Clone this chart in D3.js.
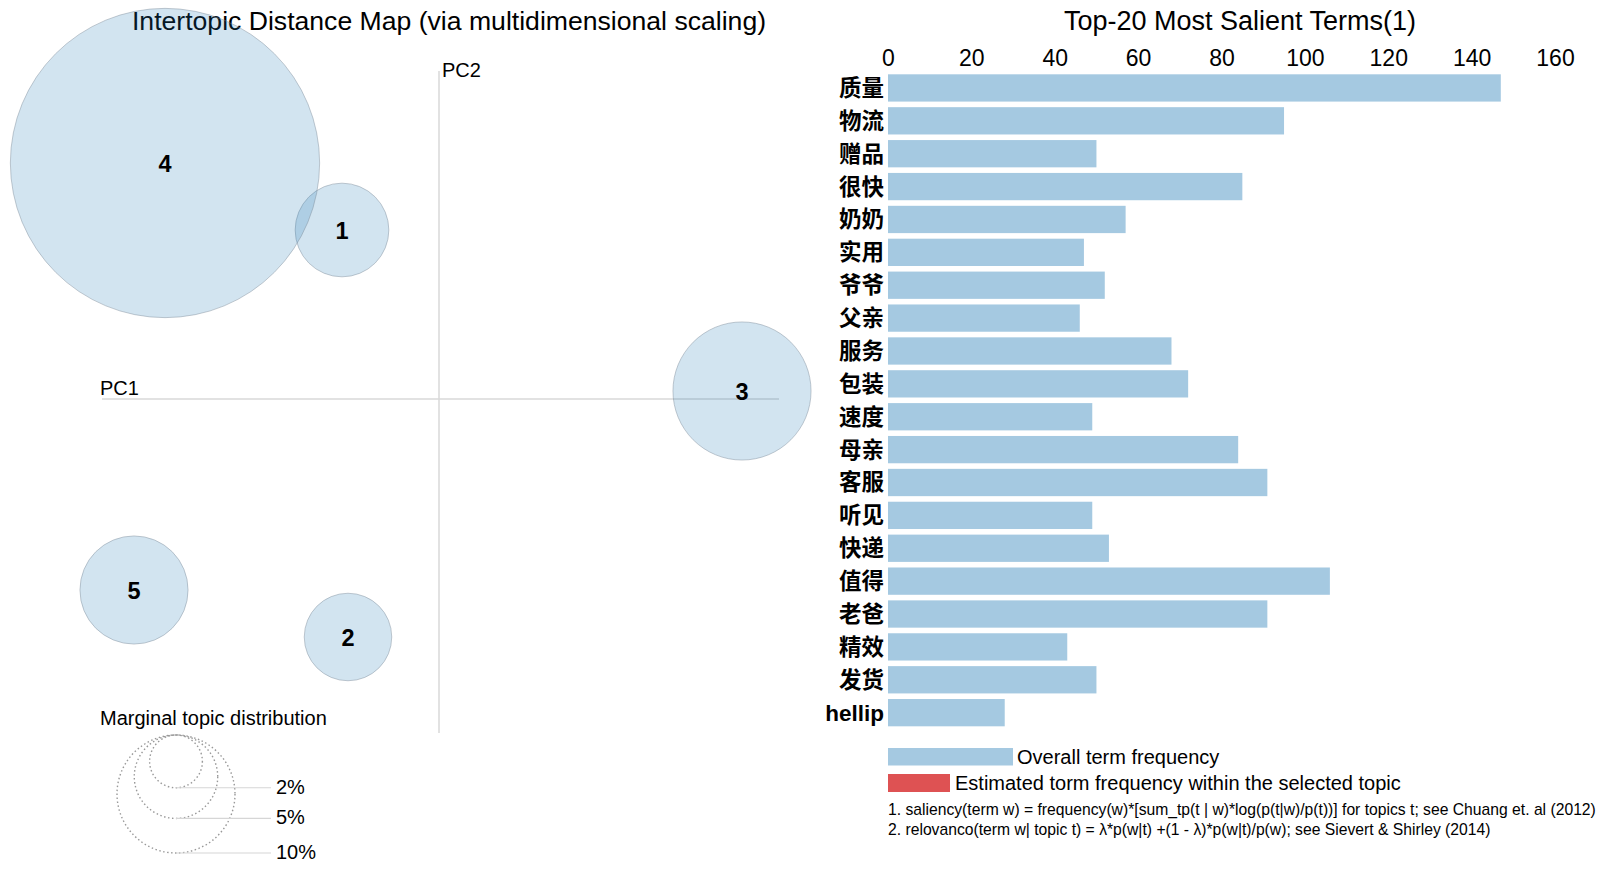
<!DOCTYPE html>
<html>
<head>
<meta charset="utf-8">
<script src="https://cdn.jsdelivr.net/npm/d3@7"></script>
<style>
  body { margin: 0; background: #fff; }
  text { font-family: "Liberation Sans", Arial, sans-serif; fill: #000; }
  .cjk { font-family: "Noto Sans CJK SC", sans-serif; font-weight: 700; }
</style>
</head>
<body>
<svg id="chart" width="1598" height="869"></svg>
<script>
// topic map data
const topicIds = [1, 2, 3, 4, 5];
const topicPC1 = [-0.097, -0.091, 0.303, -0.274, -0.305];
const topicPC2 = [0.169, -0.238, 0.008, 0.236, -0.191];
const topicShare = [6.3, 5.5, 13.7, 68.7, 8.4]; // marginal %

const legendShares = [2, 5, 10];
const legendLabels = ["2%", "5%", "10%"];

// salient terms
const terms = ["质量", "物流", "赠品", "很快", "奶奶", "实用", "爷爷", "父亲", "服务", "包装",
               "速度", "母亲", "客服", "听见", "快递", "值得", "老爸", "精效", "发货", "hellip"];
const termFreq = [147, 95, 50, 85, 57, 47, 52, 46, 68, 72,
                  49, 84, 91, 49, 53, 106, 91, 43, 50, 28];
const xTicks = [0, 20, 40, 60, 80, 100, 120, 140, 160];

const footnotes = [
    "1. saliency(term w) = frequency(w)*[sum_tp(t | w)*log(p(t|w)/p(t))] for topics t; see Chuang et. al (2012)",
    "2. relovanco(term w| topic t) = \u03bb*p(w|t) +(1 - \u03bb)*p(w|t)/p(w); see Sievert & Shirley (2014)"
];

const svg = d3.select("#chart");
const blue = "#1f77b4";

// ---- left panel: intertopic distance map
let xPC = d3.scaleLinear().domain([-0.337, 0.34]).range([102, 779]);
let yPC = d3.scaleLinear().domain([-0.334, 0.328]).range([733, 71]);
let rScale = d3.scaleSqrt().domain([0, 10]).range([0, 59]);

svg.append("text")
    .attr("x", 449).attr("y", 30)
    .attr("text-anchor", "middle")
    .style("font-size", "26.6px")
    .text("Intertopic Distance Map (via multidimensional scaling)");

let axes = svg.append("g");
axes.append("line")
    .attr("x1", xPC(-0.337)).attr("x2", xPC(0.34))
    .attr("y1", yPC(0)).attr("y2", yPC(0))
    .attr("stroke", "#d9d9d9").attr("stroke-width", 1.5);
axes.append("line")
    .attr("x1", xPC(0)).attr("x2", xPC(0))
    .attr("y1", yPC(0.328)).attr("y2", yPC(-0.334))
    .attr("stroke", "#d9d9d9").attr("stroke-width", 1.5);
axes.append("text")
    .attr("x", 100).attr("y", 395)
    .style("font-size", "20px").text("PC1");
axes.append("text")
    .attr("x", 442).attr("y", 77)
    .style("font-size", "20px").text("PC2");

let topics = topicIds.map((id, i) => ({id: id, x: topicPC1[i], y: topicPC2[i], share: topicShare[i]}));

svg.append("g")
    .selectAll("circle")
    .data(topics)
    .enter()
    .append("circle")
    .attr("cx", d => xPC(d.x))
    .attr("cy", d => yPC(d.y))
    .attr("r", d => rScale(d.share))
    .attr("fill", blue)
    .attr("fill-opacity", 0.2)
    .attr("stroke", "#7f8c99")
    .attr("stroke-opacity", 0.45)
    .attr("stroke-width", 1);

svg.append("g")
    .selectAll("text")
    .data(topics)
    .enter()
    .append("text")
    .attr("x", d => xPC(d.x))
    .attr("y", d => yPC(d.y) + 8.5)
    .attr("text-anchor", "middle")
    .style("font-size", "23.5px")
    .style("font-weight", "700")
    .text(d => d.id);

// marginal topic distribution legend
let legCx = 176, legTop = 735;
svg.append("text")
    .attr("x", 100).attr("y", 725)
    .style("font-size", "20px")
    .text("Marginal topic distribution");

let legG = svg.append("g");
legG.selectAll("circle")
    .data(legendShares)
    .enter()
    .append("circle")
    .attr("cx", legCx)
    .attr("cy", d => legTop + rScale(d))
    .attr("r", d => rScale(d))
    .attr("fill", "none")
    .attr("stroke", "#999")
    .attr("stroke-width", 1.4)
    .attr("stroke-dasharray", "1.5 2.5");
legG.selectAll("line")
    .data(legendShares)
    .enter()
    .append("line")
    .attr("x1", legCx).attr("x2", 271)
    .attr("y1", d => legTop + 2 * rScale(d))
    .attr("y2", d => legTop + 2 * rScale(d))
    .attr("stroke", "#d6d6d6").attr("stroke-width", 1.2);
legG.selectAll("text")
    .data(legendShares)
    .enter()
    .append("text")
    .attr("x", 276)
    .attr("y", d => legTop + 2 * rScale(d) + 6)
    .style("font-size", "20px")
    .text((d, i) => legendLabels[i]);

// ---- right panel: salient terms bar chart
let xBar = d3.scaleLinear().domain([0, 160]).range([888, 1555]);
let yBar = d3.scaleBand().domain(terms).range([74.3, 726.3]).paddingInner(0.17).paddingOuter(0);

svg.append("text")
    .attr("x", 1240).attr("y", 30)
    .attr("text-anchor", "middle")
    .style("font-size", "27px")
    .text("Top-20 Most Salient Terms(1)");

let xAxis = svg.append("g")
    .attr("transform", "translate(0, 66)")
    .call(d3.axisTop(xBar).tickValues(xTicks).tickSize(0).tickPadding(0));
xAxis.select(".domain").remove();
xAxis.selectAll("text")
    .style("font-family", "'Liberation Sans', Arial, sans-serif")
    .style("font-size", "23px")
    .attr("fill", "#000");

svg.append("g")
    .selectAll("rect")
    .data(terms)
    .enter()
    .append("rect")
    .attr("x", xBar(0))
    .attr("y", d => yBar(d))
    .attr("width", (d, i) => xBar(termFreq[i]) - xBar(0))
    .attr("height", yBar.bandwidth())
    .attr("fill", blue)
    .attr("fill-opacity", 0.4);

svg.append("g")
    .selectAll("text")
    .data(terms)
    .enter()
    .append("text")
    .attr("class", d => /^[a-z]/.test(d) ? "" : "cjk")
    .attr("x", 884)
    .attr("y", d => yBar(d) + yBar.bandwidth() / 2 + 8)
    .attr("text-anchor", "end")
    .style("font-size", "22.5px")
    .style("font-weight", "700")
    .text(d => d);

// bar legend
svg.append("rect")
    .attr("x", 888).attr("y", 748)
    .attr("width", 125).attr("height", 17.5)
    .attr("fill", blue).attr("fill-opacity", 0.4);
svg.append("text")
    .attr("x", 1017).attr("y", 764)
    .style("font-size", "20px")
    .text("Overall term frequency");
svg.append("rect")
    .attr("x", 888).attr("y", 774)
    .attr("width", 62).attr("height", 18)
    .attr("fill", "#d62728").attr("fill-opacity", 0.8);
svg.append("text")
    .attr("x", 955).attr("y", 790)
    .style("font-size", "20px")
    .text("Estimated torm frequency within the selected topic");

svg.append("g")
    .selectAll("text")
    .data(footnotes)
    .enter()
    .append("text")
    .attr("x", 888)
    .attr("y", (d, i) => 815 + i * 20)
    .style("font-size", "15.7px")
    .text(d => d);
</script>
</body>
</html>
